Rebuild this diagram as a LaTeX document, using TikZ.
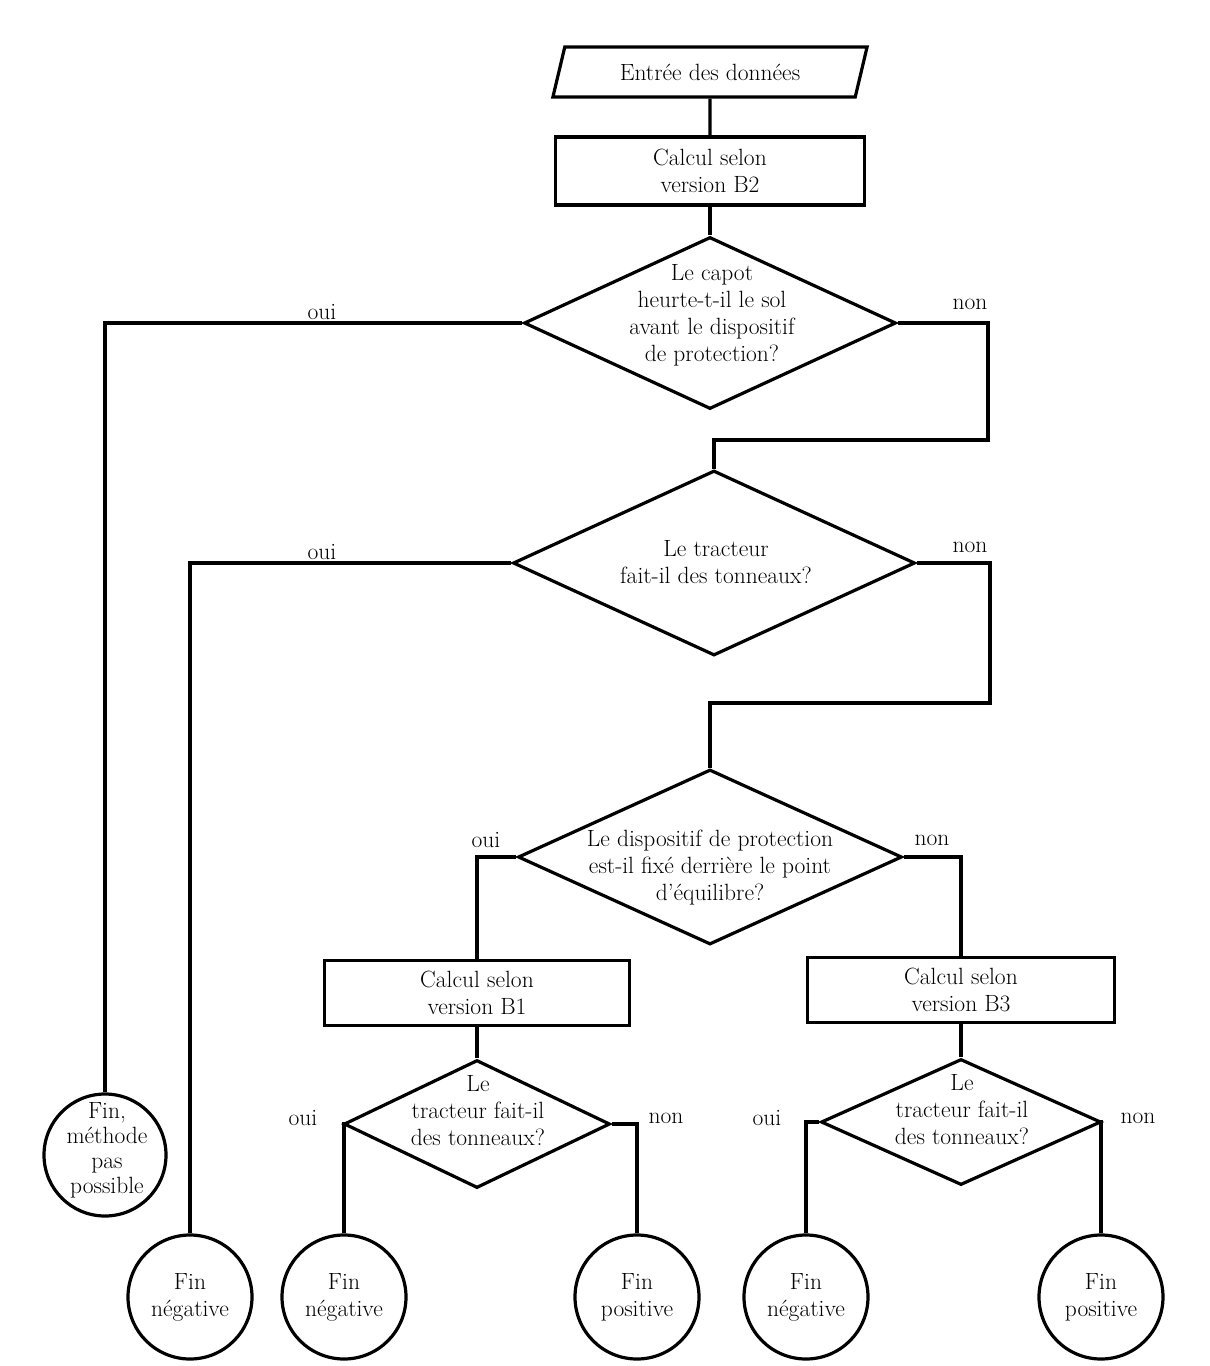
\documentclass[tikz,border=0pt]{standalone}
\usetikzlibrary{shapes.geometric}
\begin{document}
\begin{tikzpicture}[x=1pt,y=-1pt, line width=3.2pt, line join=miter,
  every node/.style={font=\fontsize{23.5}{27}\selectfont, align=center},
  box/.style={draw, rectangle, inner sep=0pt},
  dia/.style={draw, diamond, inner sep=0pt},
  endc/.style={draw, circle, inner sep=0pt, minimum size=124pt},
  io/.style={draw, trapezium, trapezium left angle=66, trapezium right angle=114,
             trapezium stretches=true, inner sep=0pt},
  lbl/.style={inner sep=0pt}]
\useasboundingbox (0,0) rectangle (1210,1366);
% nodes
\node[io, minimum width=315pt, minimum height=50pt] (inp) at (710,72) {Entrée des données};
\node[box, minimum width=309pt, minimum height=68pt] (b2) at (710,171) {Calcul selon\\version B2};
\node[dia, minimum width=372pt, minimum height=172pt] (d1) at (710,323) {};
\node[lbl] (d1t) at (712,315) {Le capot\\heurte-t-il le sol\\avant le dispositif\\de protection?};
\node[dia, minimum width=402pt, minimum height=185pt] (d2) at (714,563) {};
\node[lbl] (d2t) at (716,562) {Le tracteur\\fait-il des tonneaux?};
\node[dia, minimum width=384pt, minimum height=175pt] (d3) at (710,857) {};
\node[lbl] (d3t) at (710,868) {Le dispositif de protection\\est-il fixé derrière le point\\d'équilibre?};
\node[box, minimum width=305pt, minimum height=65pt] (b1) at (477,993) {Calcul selon\\version B1};
\node[box, minimum width=307pt, minimum height=65pt] (b3) at (961,990) {Calcul selon\\version B3};
\node[dia, minimum width=266pt, minimum height=128pt] (d4) at (477,1124) {};
\node[lbl] (d4t) at (478,1111) {Le\\tracteur fait-il\\des tonneaux?};
\node[dia, minimum width=280pt, minimum height=126pt] (d5) at (961,1122) {};
\node[lbl] (d5t) at (962,1110) {Le\\tracteur fait-il\\des tonneaux?};
\node[endc, minimum size=122pt] (e1) at (105,1155) {};
\node[lbl, font=\fontsize{23.5}{25}\selectfont] (e1t) at (107,1150) {Fin,\\méthode\\pas\\possible};
\node[endc] (e2) at (190,1297) {Fin\\négative};
\node[endc] (c1) at (344,1297) {Fin\\négative};
\node[endc] (c2) at (637,1297) {Fin\\positive};
\node[endc] (c3) at (806,1297) {Fin\\négative};
\node[endc] (c4) at (1101,1297) {Fin\\positive};
% labels
\node[lbl] (o1) at (322,312) {oui};
\node[lbl] (n1l) at (970,304) {non};
\node[lbl] (o2) at (322,552) {oui};
\node[lbl] (n2l) at (970,547) {non};
\node[lbl] (o3) at (486,840) {oui};
\node[lbl] (n3l) at (932,840) {non};
\node[lbl] (o4) at (303,1118) {oui};
\node[lbl] (n4l) at (666,1118) {non};
\node[lbl] (o5) at (767,1118) {oui};
\node[lbl] (n5l) at (1138,1118) {non};
% connectors
\coordinate (k1) at (988,440);
\coordinate (k2) at (990,703);
\draw (inp.south) -- (b2.north);
\draw (b2.south) -- (d1.north);
\draw (d1.west) -| (e1.north);
\draw (d1.east) -| (k1) -| (d2.north);
\draw (d2.west) -| (e2.north);
\draw (d2.east) -| (k2) -| (d3.north);
\draw (d3.west) -| (b1.north);
\draw (d3.east) -| (b3.north);
\draw (b1.south) -- (d4.north);
\draw (b3.south) -- (d5.north);
\draw (d4.west) -| (c1.north);
\draw (d4.east) -| (c2.north);
\draw (d5.west) -| (c3.north);
\draw (d5.east) -| (c4.north);
\end{tikzpicture}
\end{document}
